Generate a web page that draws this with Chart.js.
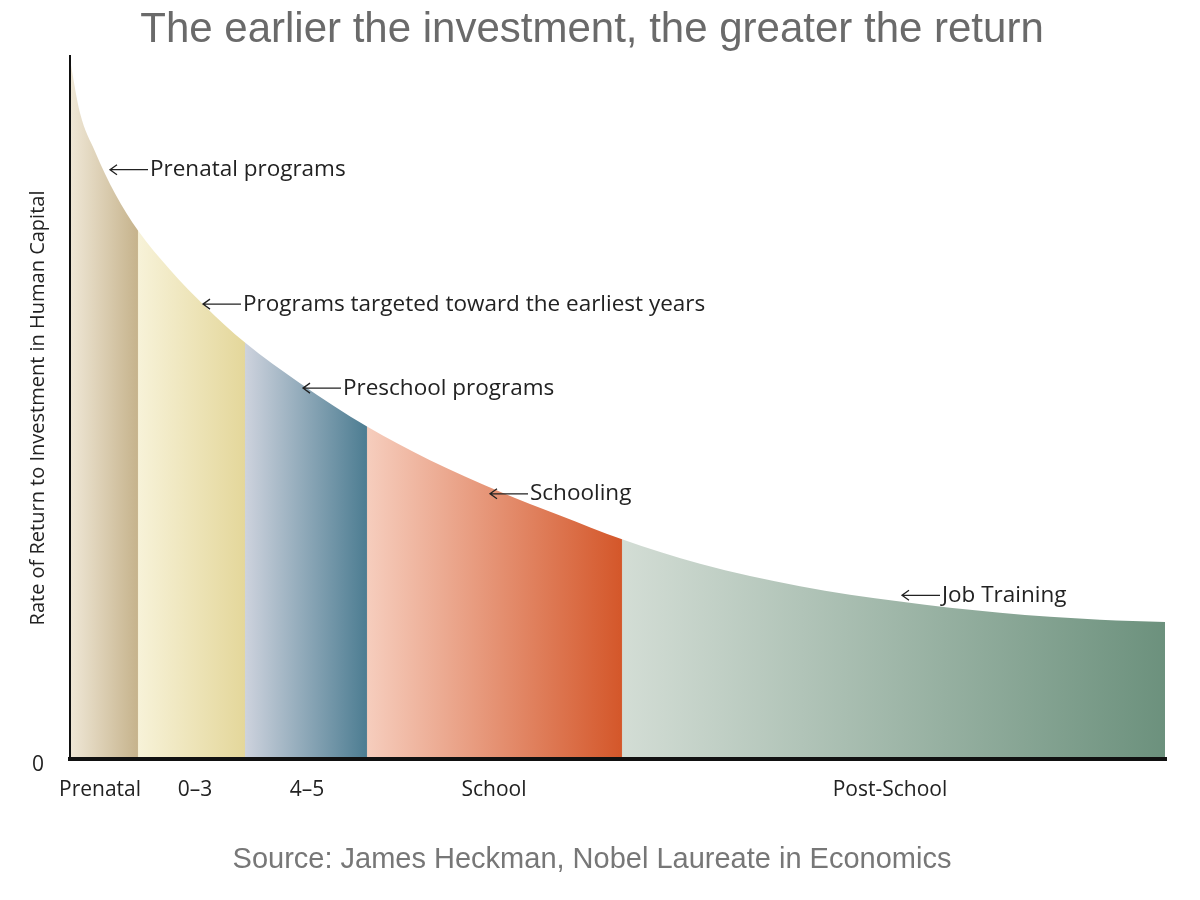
<!DOCTYPE html>
<html>
<head>
<meta charset="utf-8">
<script src="https://cdn.jsdelivr.net/npm/chart.js@4"></script>
<style>
  html, body { margin: 0; padding: 0; background: #fff; }
  #wrap { width: 1200px; height: 900px; }
</style>
</head>
<body>
<div id="wrap"><canvas id="chart" width="1200" height="900"></canvas></div>
<script>
// curve of return vs. age (x in relative units 0..1095, y in 0..100)
const curveX = [0, 10, 25, 45, 68, 100, 135, 175, 230, 297, 360, 430, 490, 552, 630, 730, 830, 930, 1030, 1095];
const curveY = [99.6, 92.0, 86.5, 80.5, 75.2, 69.6, 64.4, 59.2, 53.4, 47.2, 42.4, 37.9, 34.5, 31.1, 27.6, 24.4, 22.2, 20.6, 19.6, 19.3];

// stages along x
const stageNames = ["Prenatal", "0–3", "4–5", "School", "Post-School"];
const stageStart = [0, 68, 175, 297, 552];
const stageEnd = [68, 175, 297, 552, 1095];
const stageLabelX = [30, 125, 237, 424, 820];
const stageLight = ["#efe7d6", "#f7f2d8", "#cdd2dd", "#f6cdbd", "#d3ddd5"];
const stageDark = ["#c6b38c", "#e4d79b", "#4d7d92", "#d4572a", "#6c917d"];

// annotation labels with arrows
const noteText = ["Prenatal programs", "Programs targeted toward the earliest years", "Preschool programs", "Schooling", "Job Training"];
const noteX = [40, 133, 233, 420, 832];
const noteY = [83.9, 64.7, 52.7, 37.6, 23.1];

const points = curveX.map((x, i) => ({ x: x, y: curveY[i] }));

function segmentGradient(context) {
  const chart = context.chart;
  const area = chart.chartArea;
  if (!area) return "#ccc";
  const xs = chart.scales.x;
  const g = chart.ctx.createLinearGradient(area.left, 0, area.right, 0);
  const w = area.right - area.left;
  stageStart.forEach((s, i) => {
    const a = (xs.getPixelForValue(s) - area.left) / w;
    const b = (xs.getPixelForValue(stageEnd[i]) - area.left) / w;
    g.addColorStop(Math.min(1, Math.max(0, a + 0.0005)), stageLight[i]);
    g.addColorStop(Math.min(1, Math.max(0, b - 0.0005)), stageDark[i]);
  });
  return g;
}

const decorations = {
  id: "decorations",
  afterDraw(chart) {
    const ctx = chart.ctx;
    const xs = chart.scales.x, ys = chart.scales.y;
    const area = chart.chartArea;
    ctx.save();

    // axes
    ctx.strokeStyle = "#111";
    ctx.lineWidth = 2;
    ctx.beginPath();
    ctx.moveTo(area.left, area.top - 2);
    ctx.lineTo(area.left, area.bottom);
    ctx.stroke();
    ctx.lineWidth = 4;
    ctx.beginPath();
    ctx.moveTo(area.left - 2, area.bottom + 2);
    ctx.lineTo(area.right + 2, area.bottom + 2);
    ctx.stroke();

    // title
    ctx.fillStyle = "#6a6a6a";
    ctx.font = "42px 'Liberation Sans', Arial, sans-serif";
    ctx.textAlign = "center";
    ctx.textBaseline = "middle";
    ctx.fillText("The earlier the investment, the greater the return", 592, 30);

    // source
    ctx.font = "29px 'Liberation Sans', Arial, sans-serif";
    ctx.fillStyle = "#777";
    ctx.fillText("Source: James Heckman, Nobel Laureate in Economics", 592, 860);

    // stage labels and zero
    ctx.fillStyle = "#222";
    ctx.font = "21px 'Open Sans', sans-serif";
    stageNames.forEach((n, i) => ctx.fillText(n, xs.getPixelForValue(stageLabelX[i]), 790));
    ctx.fillText("0", 38, 765);

    // y axis title
    ctx.save();
    ctx.translate(38, 408);
    ctx.rotate(-Math.PI / 2);
    ctx.font = "20px 'Open Sans', sans-serif";
    ctx.fillText("Rate of Return to Investment in Human Capital", 0, 0);
    ctx.restore();

    // annotations
    ctx.textAlign = "left";
    ctx.font = "22.5px 'Open Sans', sans-serif";
    ctx.lineWidth = 1.3;
    ctx.strokeStyle = "#222";
    noteText.forEach((t, i) => {
      const px = xs.getPixelForValue(noteX[i]);
      const py = ys.getPixelForValue(noteY[i]);
      ctx.beginPath();
      ctx.moveTo(px, py);
      ctx.lineTo(px + 38, py);
      ctx.moveTo(px + 7, py - 5);
      ctx.lineTo(px, py);
      ctx.lineTo(px + 7, py + 5);
      ctx.stroke();
      ctx.fillText(t, px + 40, py);
    });
    ctx.restore();
  }
};

new Chart(document.getElementById("chart"), {
  type: "line",
  data: {
    datasets: [{
      data: points,
      fill: "origin",
      backgroundColor: segmentGradient,
      borderWidth: 0,
      pointRadius: 0,
      cubicInterpolationMode: "monotone"
    }]
  },
  options: {
    responsive: false,
    animation: false,
    layout: { padding: { left: 70, right: 35, top: 57, bottom: 143 } },
    scales: {
      x: { type: "linear", min: 0, max: 1095, display: false },
      y: { min: 0, max: 100, display: false }
    },
    plugins: { legend: { display: false }, tooltip: { enabled: false } }
  },
  plugins: [{
    id: "bg",
    beforeDraw(chart) {
      chart.ctx.save();
      chart.ctx.fillStyle = "#fff";
      chart.ctx.fillRect(0, 0, chart.width, chart.height);
      chart.ctx.restore();
    }
  }, decorations]
});
</script>
</body>
</html>
